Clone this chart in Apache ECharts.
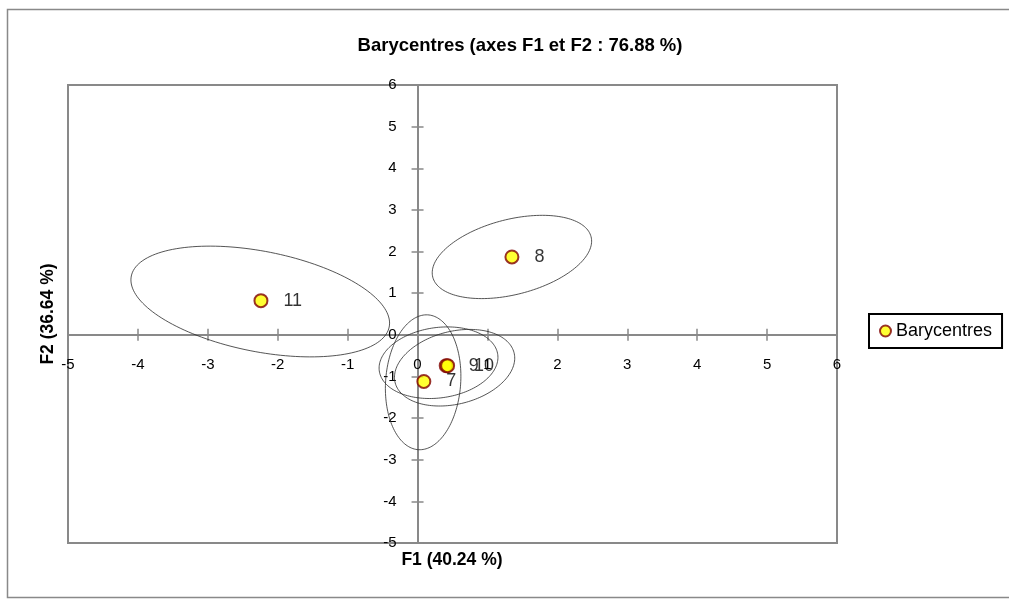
<!DOCTYPE html>
<html>
<head>
<meta charset="utf-8">
<script src="https://cdn.jsdelivr.net/npm/echarts@6/dist/echarts.min.js"></script>
<style>
  html, body { margin: 0; padding: 0; background: #ffffff; }
  #chart { width: 1009px; height: 601px; }
</style>
</head>
<body>
<div id="chart"></div>
<script>
// Group barycentres on the first two factorial axes
const groups = ['7', '8', '9', '10', '11'];
const f1 = [0.09, 1.35, 0.41, 0.43, -2.24];
const f2 = [-1.12, 1.87, -0.74, -0.74, 0.82];

// Confidence ellipses: centre, half extent along F1 and F2, correlation
const ellCx = [0.08, 1.35, 0.30, 0.53, -2.25];
const ellCy = [-1.14, 1.87, -0.67, -0.79, 0.80];
const ellWx = [0.54, 1.14, 0.85, 0.86, 1.85];
const ellHy = [1.62, 1.00, 0.86, 0.92, 1.33];
const ellRho = [0.09, 0.38, 0.15, 0.25, -0.39];

// Axis ranges and step
const f1Range = [-5, 6];
const f2Range = [-5, 6];
const step = 1;

const titleText = 'Barycentres (axes F1 et F2 : 76.88 %)';
const f1Name = 'F1 (40.24 %)';
const f2Name = 'F2 (36.64 %)';
const seriesName = 'Barycentres';

const FONT = '"Liberation Sans", Arial, sans-serif';
const W = 1009, H = 601;
const GRID = { left: 68, right: 172, top: 85, bottom: 58 };
const AXIS_GREY = '#898989';

const points = groups.map((g, i) => {
  const item = { name: g, value: [f1[i], f2[i]] };
  if (g === '10') item.label = { offset: [4, 0] };
  return item;
});
const ellipses = groups.map((g, i) => [ellCx[i], ellCy[i], ellWx[i], ellHy[i], ellRho[i]]);

// Axes are drawn through the origin: the labelled axis carries outward ticks,
// a twin axis adds the inward half so every tick crosses the line.
function valueAxis(dim, range, main, offset) {
  const isX = dim === 'x';
  return {
    type: 'value',
    position: isX ? 'bottom' : 'left',
    offset: offset,
    min: range[0],
    max: range[1],
    interval: step,
    axisLine: { show: true, onZero: false, lineStyle: { color: AXIS_GREY, width: 2 } },
    axisTick: { show: true, inside: !main, length: 6, lineStyle: { color: AXIS_GREY, width: 1.5 } },
    axisLabel: {
      show: main,
      margin: isX ? 23 : 21,
      fontSize: 15,
      fontFamily: FONT,
      color: '#000000'
    },
    splitLine: { show: false }
  };
}

function axesAt(xOff, yOff) {
  return {
    xAxis: [valueAxis('x', f1Range, true, xOff), valueAxis('x', f1Range, false, xOff)],
    yAxis: [valueAxis('y', f2Range, true, yOff), valueAxis('y', f2Range, false, yOff)]
  };
}

const chart = echarts.init(document.getElementById('chart'), null, { renderer: 'canvas' });

const textStyle = (size, bold) => ({
  fontSize: size,
  fontWeight: bold ? 'bold' : 'normal',
  fontFamily: FONT,
  fill: '#000000',
  align: 'center',
  verticalAlign: 'middle'
});

chart.setOption(Object.assign({
  animation: false,
  backgroundColor: '#ffffff',
  grid: Object.assign({
    show: true,
    containLabel: false,
    outerBoundsMode: 'none',
    borderColor: AXIS_GREY,
    borderWidth: 2,
    backgroundColor: '#ffffff'
  }, GRID),
  legend: {
    left: 869,
    top: 314,
    orient: 'vertical',
    padding: [8, 10, 8, 10],
    borderColor: '#000000',
    borderWidth: 2,
    itemWidth: 11,
    itemHeight: 11,
    icon: 'circle',
    textStyle: { fontSize: 18, fontFamily: FONT, color: '#000000' },
    data: [seriesName]
  },
  graphic: [
    {
      type: 'rect',
      silent: true,
      z: -10,
      shape: { x: 7.5, y: 9.5, width: 1100, height: 588 },
      style: { fill: 'none', stroke: AXIS_GREY, lineWidth: 1.5 }
    },
    { type: 'text', x: 520, y: 46, style: Object.assign({ text: titleText }, textStyle(18.5, true)) },
    { type: 'text', x: 452, y: 560, style: Object.assign({ text: f1Name }, textStyle(17.5, true)) },
    { type: 'text', x: 48, y: 314, rotation: Math.PI / 2, style: Object.assign({ text: f2Name }, textStyle(17.5, true)) }
  ],
  series: [
    {
      type: 'custom',
      name: 'ellipses',
      silent: true,
      xAxisIndex: 0,
      yAxisIndex: 0,
      z: 1,
      data: ellipses,
      encode: { x: 0, y: 1 },
      renderItem: function (params, api) {
        const cx = api.value(0), cy = api.value(1);
        const wx = api.value(2), hy = api.value(3), r = api.value(4);
        const s = Math.sqrt(1 - r * r);
        const n = 160;
        const pts = [];
        for (let i = 0; i < n; i++) {
          const t = 2 * Math.PI * i / n;
          pts.push(api.coord([cx + wx * Math.cos(t), cy + hy * (r * Math.cos(t) + s * Math.sin(t))]));
        }
        return {
          type: 'polygon',
          shape: { points: pts },
          style: { fill: 'none', stroke: '#2a2a2a', lineWidth: 0.8 }
        };
      }
    },
    {
      type: 'scatter',
      name: seriesName,
      xAxisIndex: 0,
      yAxisIndex: 0,
      z: 3,
      symbol: 'circle',
      symbolSize: 13,
      itemStyle: { color: '#FFFF00', borderColor: '#7F0000', borderWidth: 2 },
      label: {
        show: true,
        position: 'right',
        distance: 15,
        formatter: '{b}',
        fontSize: 18,
        fontFamily: FONT,
        color: '#000000'
      },
      emphasis: { disabled: true },
      data: points
    }
  ]
}, axesAt(0, 0)));

// Move both axes onto the origin, found through the chart's own scales
const origin = chart.convertToPixel({ gridIndex: 0 }, [0, 0]);
const gridBottom = H - GRID.bottom;
const gridLeft = GRID.left;
chart.setOption(axesAt(-(gridBottom - origin[1]), -(origin[0] - gridLeft)));
</script>
</body>
</html>
